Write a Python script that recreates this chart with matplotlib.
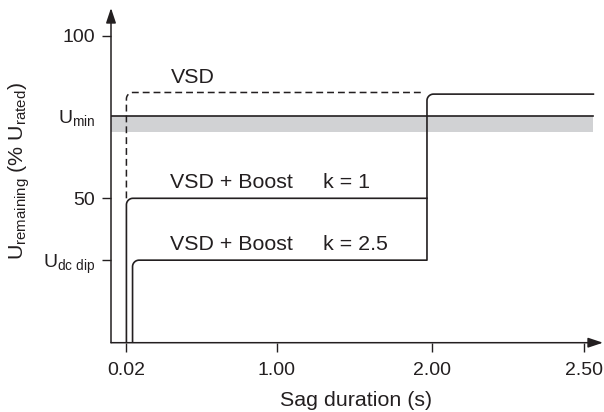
import matplotlib
matplotlib.use('Agg')
import matplotlib.pyplot as plt
import numpy as np

plt.rcParams['font.family'] = ['Liberation Sans', 'DejaVu Sans']
plt.rcParams['mathtext.fontset'] = 'custom'
plt.rcParams['mathtext.rm'] = 'Liberation Sans'
plt.rcParams['mathtext.it'] = 'Liberation Sans:italic'

INK = '#231f20'
BAND = '#d1d2d4'

# data (sag duration in s, remaining voltage in % of rated)
t_sag = 0.02          # sag start
t_k25 = 0.06          # boost k=2.5 comes in slightly later
t_rec = 1.97          # voltage recovers
t_end = 2.53
u_min = 75.3
u_band_low = 70.5
u_vsd = 82.5
u_after = 82.0
u_k1 = 50.0
u_dcdip = 31.0
u_floor = 5.65

x_ticks = [0.02, 1.0, 2.0, 2.5]
x_ticklabels = ['0.02', '1.00', '2.00', '2.50']
y_ticks = [100, u_min, 50, u_dcdip]
y_ticklabels = ['100', r'U$_{\mathrm{min}}$', '50', r'U$_{\mathrm{dc\ dip}}$']

# schematic (non-linear) time axis
sec_knots = [-1.0, 0.02, 1.0, 2.0, 2.5, 4.0]
pos_knots = [-1.005, 0.0, 0.985, 2.0, 3.0, 6.0]


def fwd(x):
    return np.interp(x, sec_knots, pos_knots)


def inv(p):
    return np.interp(p, pos_knots, sec_knots)


fig = plt.figure(figsize=(6.04, 4.12), dpi=100)
ax = fig.add_axes([111 / 604, 69.3 / 412, 492 / 604, 334.7 / 412])
ax.set_xscale('function', functions=(fwd, inv))
ax.set_xlim(-0.0825, 2.5615)
ax.set_ylim(u_floor, 108.45)


def rounded(xs, ys, corners, r=6.5, n=16):
    """polyline with rounded corners (radius in pixels) at given vertex indices"""
    pts = ax.transData.transform(np.column_stack([xs, ys]))
    out = [pts[0]]
    for i in range(1, len(pts) - 1):
        p = pts[i]
        if i not in corners:
            out.append(p)
            continue
        ua = (pts[i - 1] - p) / np.linalg.norm(pts[i - 1] - p)
        ub = (pts[i + 1] - p) / np.linalg.norm(pts[i + 1] - p)
        c = p + r * ua + r * ub
        th = np.linspace(0, np.pi / 2, n)[:, None]
        out.extend(c - r * (np.cos(th) * ub + np.sin(th) * ua))
    out.append(pts[-1])
    d = ax.transData.inverted().transform(np.array(out))
    return d[:, 0], d[:, 1]


# U_min band
x0 = ax.get_xlim()[0]
ax.fill_between([x0, t_end], u_band_low, u_min, color=BAND, lw=0, zorder=1)
ax.plot([x0, t_end], [u_min, u_min], color=INK, lw=1.2, zorder=2)

# VSD + Boost k = 2.5
x, y = rounded([t_k25, t_k25, t_rec, t_rec, t_end],
               [u_floor, u_dcdip, u_dcdip, u_after, u_after], corners={1, 3})
ax.plot(x, y, color=INK, lw=1.2, zorder=3)

# VSD + Boost k = 1
x, y = rounded([t_sag, t_sag, t_rec], [u_floor, u_k1, u_k1], corners={1})
ax.plot(x, y, color=INK, lw=1.2, zorder=3)

# VSD (dashed)
x, y = rounded([t_sag, t_sag, t_rec - 0.02], [u_k1, u_vsd, u_vsd], corners={1})
ax.plot(x, y, color=INK, lw=1.1, ls=(0, (4.5, 2.6)), zorder=3)

# labels on curves
fs = 15.4
ax.text(0.307, 85.3, 'VSD', fontsize=fs, color=INK, va='baseline')
ax.text(0.307, 53.1, 'VSD + Boost', fontsize=fs, color=INK, va='baseline')
ax.text(1.30, 53.1, 'k = 1', fontsize=fs, color=INK, va='baseline')
ax.text(0.307, 34.1, 'VSD + Boost', fontsize=fs, color=INK, va='baseline')
ax.text(1.30, 34.1, 'k = 2.5', fontsize=fs, color=INK, va='baseline')

# axes with arrows
for s in ax.spines.values():
    s.set_visible(False)
for tip in [(1, 0), (0, 1)]:
    ax.annotate('', xy=tip, xytext=(0, 0), xycoords='axes fraction',
                arrowprops=dict(arrowstyle='-|>,head_length=0.9,head_width=0.3',
                                color=INK, lw=1.1, mutation_scale=10,
                                shrinkA=0, shrinkB=0))

ax.set_xticks(x_ticks)
ax.set_xticklabels(x_ticklabels)
ax.set_yticks(y_ticks)
ax.set_yticklabels(y_ticklabels)
ax.minorticks_off()
ax.tick_params(axis='both', direction='out', length=6.5, width=1.0,
               color=INK, labelcolor=INK, labelsize=14)
ax.tick_params(axis='x', pad=7.5)
ax.tick_params(axis='y', pad=5)
ax.yaxis.get_major_ticks()[1].tick1line.set_visible(False)

fig.text(355.8 / 604, 1 - 406 / 412, 'Sag duration (s)', fontsize=fs,
         color=INK, ha='center', va='baseline')
fig.text(19 / 604, 1 - 171 / 412,
         r'U$_{\mathrm{remaining}}$ (% U$_{\mathrm{rated}}$)',
         fontsize=fs, color=INK, ha='center', va='center', rotation=90)

fig.savefig('out.png', dpi=100)
